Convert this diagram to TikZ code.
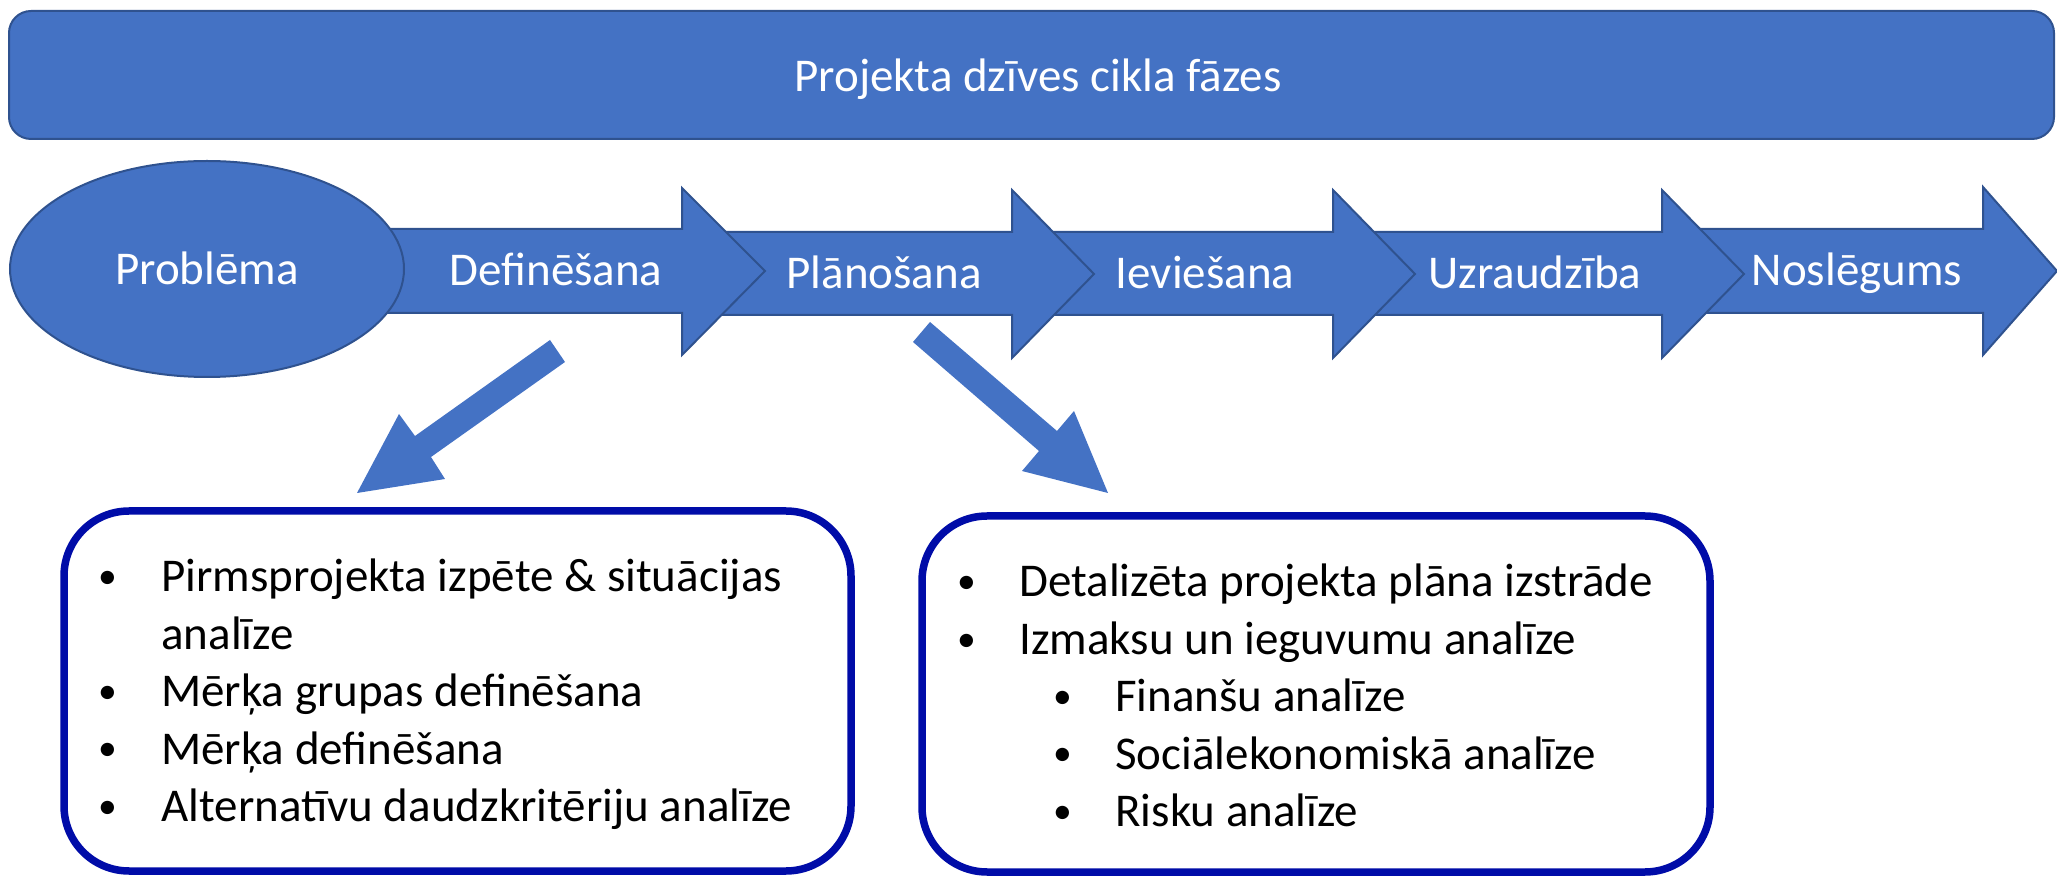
\documentclass[tikz,border=0pt]{standalone}
\usepackage{fontspec}
\usepackage{graphicx}
\setmainfont{Carlito}
\usetikzlibrary{shapes.geometric}
\definecolor{accent}{HTML}{4472C4}
\definecolor{edgeblue}{HTML}{2F528F}
\definecolor{boxblue}{RGB}{0,12,168}
\newcommand\bl[2]{\makebox[0pt][l]{\hspace*{#1}\makebox[0pt][c]{\raisebox{0.07em}{\scalebox{0.8}{\textbullet}}}}\hspace*{#2}}
\begin{document}
\begin{tikzpicture}[x=0.5pt,y=-0.5pt,
  blk/.style={fill=accent,draw=edgeblue,line width=1pt,line join=miter},
  lbl/.style={text=white,inner sep=0,anchor=base,font=\fontsize{23.5pt}{28.7pt}\selectfont},
  diag/.style={fill=accent,draw=none},
  panel/.style={draw=boxblue,line width=3.75pt,rounded corners=32.5pt,fill=white,inner sep=0},
  txt/.style={inner sep=0,anchor=base west,align=left,font=\fontsize{23.5pt}{28.7pt}\selectfont}
]
\useasboundingbox (0,0) rectangle (2057,876);
% banner
\node[blk, rounded corners=11pt, minimum width=1022.5pt, minimum height=64pt, inner sep=0] (banner) at (1031.5,75) {};
\node[lbl] (title) at (1038,92) {Projekta dzīves cikla fāzes};
% phase arrows (rightmost first)
\draw[blk] (1690,229) -- (1983,229) -- (1983,187) -- (2057,271) -- (1983,355) -- (1983,313) -- (1690,313) -- cycle;
\draw[blk] (1350,232) -- (1662,232) -- (1662,190) -- (1744,274) -- (1662,358) -- (1662,315) -- (1350,315) -- cycle;
\draw[blk] (1030,232) -- (1333,232) -- (1333,190) -- (1415,274) -- (1333,358) -- (1333,315) -- (1030,315) -- cycle;
\draw[blk] (700,232) -- (1012,232) -- (1012,190) -- (1094,274) -- (1012,358) -- (1012,315) -- (700,315) -- cycle;
\draw[blk] (300,229) -- (682,229) -- (682,188) -- (765,271) -- (682,355) -- (682,313) -- (300,313) -- cycle;
\node[blk, ellipse, minimum width=197pt, minimum height=108pt, inner sep=0] (prob) at (207,269) {};
\node[lbl] (lprob) at (207,285) {Problēma};
\node[lbl] (ldef) at (556,286) {Definēšana};
\node[lbl] (lplan) at (884,289) {Plānošana};
\node[lbl] (liev) at (1205,289) {Ieviešana};
\node[lbl] (luzr) at (1535,289) {Uzraudzība};
\node[lbl] (lnos) at (1857,286) {Noslēgums};
% diagonal arrows
\fill[diag] (550,340) -- (565,362) -- (431,457) -- (445,479) -- (357,493) -- (399,414) -- (415,436) -- cycle;
\fill[diag] (930,322) -- (1057,431) -- (1074,411) -- (1108,493) -- (1022,471) -- (1039,451) -- (913,342) -- cycle;
% boxes
\node[panel, minimum width=393.5pt, minimum height=180pt] (lbox) at (457.5,691) {};
\node[panel, minimum width=394pt, minimum height=178pt] (rbox) at (1316,694) {};
\node[txt] (ltext) at (100,592) {\parbox[t]{380pt}{%
\bl{3.5pt}{30.5pt}Pirmsprojekta izpēte \& situācijas\\
\hspace*{30.5pt}analīze\\
\bl{3.5pt}{30.5pt}Mērķa grupas definēšana\\
\bl{3.5pt}{30.5pt}Mērķa definēšana\\
\bl{3.5pt}{30.5pt}Alternatīvu daudzkritēriju analīze}};
\node[txt] (rtext) at (960,597) {\parbox[t]{380pt}{%
\bl{3pt}{29.5pt}Detalizēta projekta plāna izstrāde\\
\bl{3pt}{29.5pt}Izmaksu un ieguvumu analīze\\
\bl{51pt}{77.5pt}Finanšu analīze\\
\bl{51pt}{77.5pt}Sociālekonomiskā analīze\\
\bl{51pt}{77.5pt}Risku analīze}};
\end{tikzpicture}
\end{document}
